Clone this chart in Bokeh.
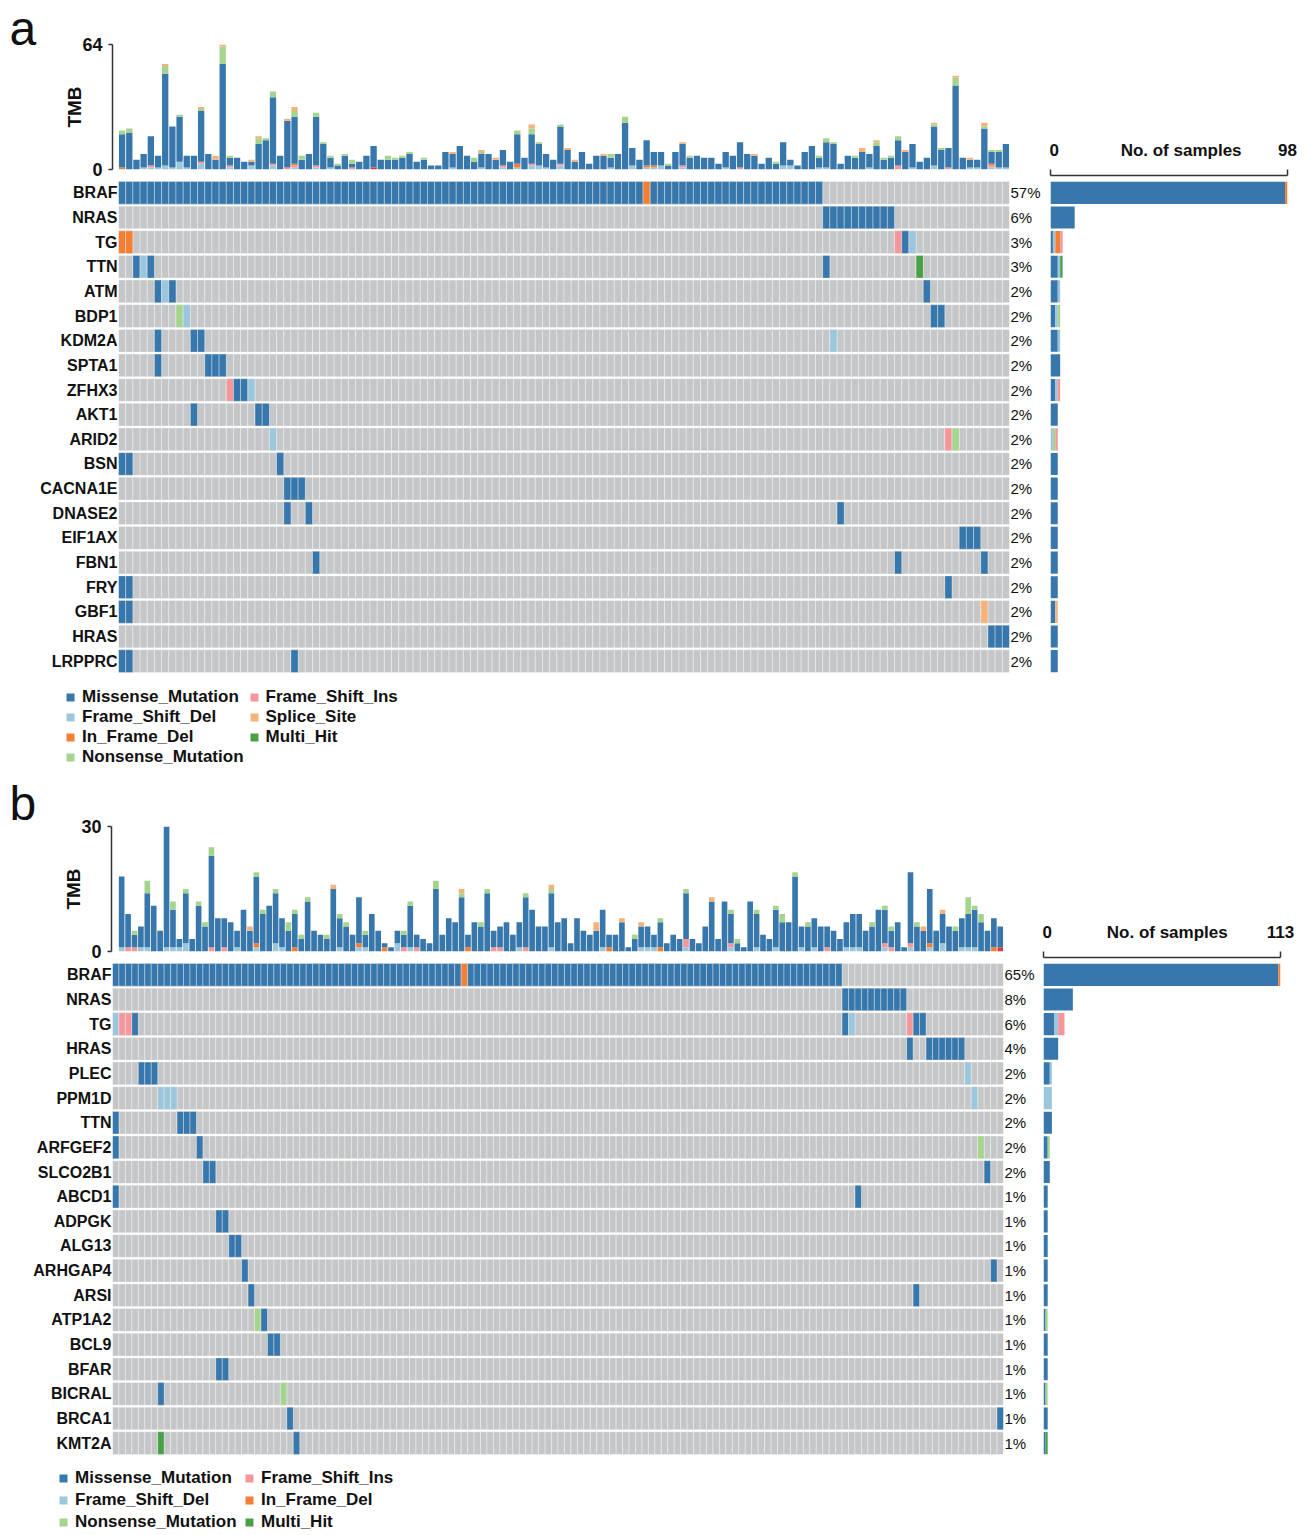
from bokeh.plotting import figure
from bokeh.models import (Range1d, LinearAxis, FixedTicker, Legend,
                          LegendItem, Spacer, ColumnDataSource)
from bokeh.core.properties import value
from bokeh.layouts import column, row
from bokeh.embed import file_html
from bokeh.resources import INLINE

FONT = "Liberation Sans"
MIS, FSD, IFD, NON = "Missense_Mutation", "Frame_Shift_Del", "In_Frame_Del", "Nonsense_Mutation"
FSI, SPL, MUL, IFI = "Frame_Shift_Ins", "Splice_Site", "Multi_Hit", "In_Frame_Ins"

COLORS = {
    MIS: "#3777AB", FSD: "#9CC6DC", IFD: "#F47E33", NON: "#A5D48F",
    FSI: "#F4979B", SPL: "#F6B27B", MUL: "#48A047", IFI: "#E2393B",
}
GREY = "#C5C6C8"

# ---------------- panel a data ----------------
genes_a = ["BRAF", "NRAS", "TG", "TTN", "ATM", "BDP1", "KDM2A", "SPTA1", "ZFHX3", "AKT1",
           "ARID2", "BSN", "CACNA1E", "DNASE2", "EIF1AX", "FBN1", "FRY", "GBF1", "HRAS", "LRPPRC"]
pct_a = ["57%", "6%", "3%", "3%"] + ["2%"] * 16
n_samples_a = 124
max_count_a = 98
# (gene, first sample, last sample, class)
cells_a = [
    ("BRAF", 0, 72, MIS), ("BRAF", 73, 73, IFD), ("BRAF", 74, 97, MIS),
    ("NRAS", 98, 107, MIS),
    ("TG", 0, 1, IFD), ("TG", 108, 108, FSI), ("TG", 109, 109, MIS), ("TG", 110, 110, FSD),
    ("TTN", 2, 2, MIS), ("TTN", 3, 3, FSD), ("TTN", 4, 4, MIS), ("TTN", 98, 98, MIS), ("TTN", 111, 111, MUL),
    ("ATM", 5, 5, MIS), ("ATM", 6, 6, FSD), ("ATM", 7, 7, MIS), ("ATM", 112, 112, MIS),
    ("BDP1", 8, 8, NON), ("BDP1", 9, 9, FSD), ("BDP1", 113, 114, MIS),
    ("KDM2A", 5, 5, MIS), ("KDM2A", 10, 11, MIS), ("KDM2A", 99, 99, FSD),
    ("SPTA1", 5, 5, MIS), ("SPTA1", 12, 14, MIS),
    ("ZFHX3", 15, 15, FSI), ("ZFHX3", 16, 17, MIS), ("ZFHX3", 18, 18, FSD),
    ("AKT1", 10, 10, MIS), ("AKT1", 19, 20, MIS),
    ("ARID2", 21, 21, FSD), ("ARID2", 115, 115, FSI), ("ARID2", 116, 116, NON),
    ("BSN", 0, 1, MIS), ("BSN", 22, 22, MIS),
    ("CACNA1E", 23, 25, MIS),
    ("DNASE2", 23, 23, MIS), ("DNASE2", 26, 26, MIS), ("DNASE2", 100, 100, MIS),
    ("EIF1AX", 117, 119, MIS),
    ("FBN1", 27, 27, MIS), ("FBN1", 108, 108, MIS), ("FBN1", 120, 120, MIS),
    ("FRY", 0, 1, MIS), ("FRY", 115, 115, MIS),
    ("GBF1", 0, 1, MIS), ("GBF1", 120, 120, SPL),
    ("HRAS", 121, 123, MIS),
    ("LRPPRC", 0, 1, MIS), ("LRPPRC", 24, 24, MIS),
]
tmb_a_total = [20, 21, 5, 8, 17, 7, 54, 22, 28, 7,
               7, 32, 8, 7, 64, 7, 6, 4, 5, 17,
               16, 40, 7, 26, 32, 7, 8, 29, 14, 7,
               3, 8, 5, 4, 7, 12, 5, 7, 6, 7,
               9, 4, 6, 2, 2, 9, 9, 12, 7, 6,
               10, 8, 6, 10, 4, 20, 6, 23, 14, 8,
               5, 23, 11, 5, 9, 3, 7, 8, 8, 8,
               27, 11, 5, 15, 9, 9, 3, 9, 14, 7,
               7, 6, 6, 3, 9, 7, 14, 8, 8, 3,
               6, 4, 14, 5, 2, 9, 12, 7, 16, 14,
               3, 7, 7, 11, 8, 15, 6, 7, 17, 10,
               13, 4, 6, 24, 11, 11, 48, 6, 6, 5,
               24, 10, 10, 13]
tmb_a_nonsense = {0: 2, 1: 2, 6: 4, 8: 1, 11: 1, 14: 9, 15: 1, 19: 3, 20: 1, 21: 3, 24: 3, 25: 2,
                  27: 2, 28: 1, 29: 1, 30: 1, 31: 1, 32: 2, 37: 2, 38: 1, 39: 1, 40: 1, 42: 1,
                  49: 2, 50: 1, 55: 2, 57: 3, 58: 1, 61: 1, 68: 2, 70: 3, 76: 1, 79: 1, 91: 1,
                  97: 1, 98: 2, 99: 1, 102: 1, 105: 2, 106: 1, 107: 1, 108: 2, 113: 1, 114: 1,
                  116: 4, 120: 1, 121: 1, 122: 1}
tmb_a_splice = {6: 1, 11: 1, 13: 2, 14: 1, 18: 1, 19: 1, 23: 1, 24: 2, 46: 1, 50: 1, 52: 1, 57: 2,
                62: 1, 63: 1, 67: 1, 78: 1, 88: 1, 103: 2, 105: 1, 109: 1, 113: 1, 116: 1, 118: 1,
                120: 2}
tmb_a_fs_ins = {4: 1, 11: 1, 15: 1, 21: 1, 23: 1, 24: 1, 27: 1, 32: 1, 53: 1, 57: 1, 61: 1, 78: 1,
                86: 1, 108: 2, 115: 1, 121: 1}
tmb_a_fs_del = {3: 1, 4: 1, 5: 1, 6: 2, 7: 1, 8: 4, 9: 1, 11: 3, 15: 1, 18: 2, 21: 2, 24: 1, 27: 1,
                29: 1, 46: 1, 50: 1, 53: 1, 55: 1, 57: 2, 58: 2, 59: 1, 61: 2, 68: 1, 71: 2, 73: 1,
                74: 1, 75: 2, 78: 1, 84: 1, 92: 2, 93: 2, 97: 1, 98: 1, 104: 1, 110: 1, 113: 2,
                118: 1, 119: 1, 121: 1, 122: 1, 123: 1}
tmb_a_in_frame_del = {0: 1, 24: 1, 55: 2, 73: 1, 74: 1, 121: 1}
tmb_a_in_frame_ins = {35: 1}
side_a_override = {}

# ---------------- panel b data ----------------
genes_b = ["BRAF", "NRAS", "TG", "HRAS", "PLEC", "PPM1D", "TTN", "ARFGEF2", "SLCO2B1", "ABCD1",
           "ADPGK", "ALG13", "ARHGAP4", "ARSI", "ATP1A2", "BCL9", "BFAR", "BICRAL", "BRCA1", "KMT2A"]
pct_b = ["65%", "8%", "6%", "4%", "2%", "2%", "2%", "2%", "2%"] + ["1%"] * 11
n_samples_b = 138
max_count_b = 113
cells_b = [
    ("BRAF", 0, 53, MIS), ("BRAF", 54, 54, IFD), ("BRAF", 55, 112, MIS),
    ("NRAS", 113, 122, MIS),
    ("TG", 0, 0, FSD), ("TG", 1, 2, FSI), ("TG", 3, 3, MIS), ("TG", 113, 113, MIS),
    ("TG", 114, 114, FSD), ("TG", 123, 123, FSI), ("TG", 124, 125, MIS),
    ("HRAS", 123, 123, MIS), ("HRAS", 126, 131, MIS),
    ("PLEC", 4, 6, MIS), ("PLEC", 132, 132, FSD),
    ("PPM1D", 7, 9, FSD), ("PPM1D", 133, 133, FSD),
    ("TTN", 0, 0, MIS), ("TTN", 10, 12, MIS),
    ("ARFGEF2", 0, 0, MIS), ("ARFGEF2", 13, 13, MIS), ("ARFGEF2", 134, 134, NON),
    ("SLCO2B1", 14, 15, MIS), ("SLCO2B1", 135, 135, MIS),
    ("ABCD1", 0, 0, MIS), ("ABCD1", 115, 115, MIS),
    ("ADPGK", 16, 17, MIS),
    ("ALG13", 18, 19, MIS),
    ("ARHGAP4", 20, 20, MIS), ("ARHGAP4", 136, 136, MIS),
    ("ARSI", 21, 21, MIS), ("ARSI", 124, 124, MIS),
    ("ATP1A2", 22, 22, NON), ("ATP1A2", 23, 23, MIS),
    ("BCL9", 24, 25, MIS),
    ("BFAR", 16, 17, MIS),
    ("BICRAL", 7, 7, MIS), ("BICRAL", 26, 26, NON),
    ("BRCA1", 27, 27, MIS), ("BRCA1", 137, 137, MIS),
    ("KMT2A", 7, 7, MUL), ("KMT2A", 28, 28, MIS),
]
tmb_b_total = [18, 9, 5, 6, 17, 11, 5, 30, 12, 3,
               15, 3, 12, 7, 25, 8, 8, 7, 5, 10,
               6, 19, 10, 11, 15, 8, 7, 10, 4, 13,
               5, 4, 4, 16, 9, 7, 4, 13, 5, 9,
               5, 2, 1, 5, 5, 12, 4, 3, 2, 17,
               4, 8, 7, 15, 4, 7, 7, 15, 5, 6,
               7, 4, 7, 14, 10, 6, 6, 16, 7, 8,
               2, 8, 5, 4, 7, 10, 4, 4, 8, 1,
               4, 7, 6, 4, 8, 2, 4, 3, 15, 3,
               2, 6, 13, 3, 12, 10, 3, 1, 12, 10,
               4, 3, 11, 9, 7, 19, 6, 7, 8, 6,
               6, 5, 3, 7, 9, 9, 5, 7, 10, 11,
               6, 7, 1, 19, 7, 6, 15, 5, 10, 6,
               6, 8, 13, 11, 9, 5, 8, 6]
tmb_b_nonsense = {2: 1, 4: 3, 8: 2, 10: 1, 12: 1, 13: 1, 14: 2, 21: 1, 22: 1, 24: 1, 26: 2, 27: 1,
                  28: 1, 29: 1, 32: 1, 34: 1, 35: 1, 38: 1, 44: 1, 45: 1, 49: 2, 53: 1, 56: 1,
                  57: 1, 63: 1, 67: 1, 80: 1, 84: 1, 88: 1, 95: 1, 96: 1, 99: 1, 102: 1, 103: 2,
                  105: 1, 107: 1, 117: 1, 119: 1, 120: 1, 124: 1, 130: 1, 132: 4, 133: 1, 134: 2}
tmb_b_splice = {20: 1, 33: 1, 53: 1, 67: 1, 74: 2, 78: 1, 81: 1, 92: 1, 125: 1, 128: 1}
tmb_b_fs_ins = {1: 1, 2: 1, 14: 1, 16: 1, 44: 1, 46: 1, 58: 1, 59: 1, 63: 1, 88: 2, 95: 1, 110: 1,
                119: 1, 120: 1, 123: 1}
tmb_b_fs_del = {0: 1, 3: 1, 4: 1, 7: 1, 8: 1, 9: 1, 10: 2, 18: 1, 21: 1, 24: 2, 25: 1, 34: 1, 37: 1,
                38: 1, 43: 2, 45: 1, 62: 1, 67: 1, 75: 1, 81: 1, 82: 1, 83: 1, 88: 1, 95: 1, 99: 1,
                102: 1, 106: 1, 108: 1, 113: 1, 114: 1, 115: 1, 119: 1, 123: 1, 126: 1, 128: 2,
                131: 1, 132: 1, 133: 1}
tmb_b_in_frame_del = {21: 1, 27: 1, 37: 1, 41: 1, 54: 1, 76: 1, 84: 1, 126: 1, 136: 1}
tmb_b_in_frame_ins = {137: 1}
side_b_override = {"NRAS": {MIS: 14}, "TG": {MIS: 5, FSD: 2, FSI: 3}}

legend_a = [MIS, FSD, IFD, NON, FSI, SPL, MUL]
legend_b = [MIS, FSD, NON, FSI, IFD, MUL]

TMB_ORDER = [FSD, FSI, IFD, IFI, MIS, NON, SPL]
SIDE_ORDER = [MIS, FSD, IFD, NON, FSI, SPL, MUL]


def base_fig(width, height, left, right, top, bottom, x_range, y_range):
    p = figure(width=width, height=height, x_range=x_range, y_range=y_range,
               toolbar_location=None, tools="", output_backend="svg",
               x_axis_location=None, y_axis_location=None,
               min_border_left=left, min_border_right=right,
               min_border_top=top, min_border_bottom=bottom)
    p.outline_line_color = None
    p.grid.visible = False
    p.background_fill_color = "white"
    p.border_fill_color = "white"
    try:
        p.frame_align = False
    except Exception:
        pass
    return p


def make_letter(letter, width, height, bx, by):
    p = base_fig(width, height, 0, 0, 0, 0, Range1d(0, width), Range1d(height, 0))
    p.text(x=[bx], y=[by], text=[letter], text_font=value(FONT), text_font_size="48px",
           text_baseline="middle", text_align="left", text_color="#111111")
    return p


def make_tmb(total, parts, ymax, width, height, left, right, top, bottom, grid_w):
    n = len(total)
    colw = grid_w / n
    frame_w = width - left - right
    pad = (frame_w - grid_w) / colw
    p = base_fig(width, height, left, right, top, bottom,
                 Range1d(-0.5 - pad, n - 0.5), Range1d(0, ymax))
    data = {"sample": list(range(n))}
    others = [0] * n
    for cls, d in parts.items():
        col = [d.get(i, 0) for i in range(n)]
        data[cls] = col
        others = [a + b for a, b in zip(others, col)]
    data[MIS] = [t - o for t, o in zip(total, others)]
    src = ColumnDataSource(data)
    p.vbar_stack(TMB_ORDER, x="sample", width=0.88, source=src,
                 color=[COLORS[c] for c in TMB_ORDER], line_color=None)
    ax = LinearAxis(ticker=FixedTicker(ticks=[0, ymax]), axis_label="TMB")
    ax.axis_line_color = "#333333"
    ax.axis_line_width = 1.5
    ax.major_tick_line_color = "#333333"
    ax.major_tick_line_width = 1.5
    ax.major_tick_out = 4
    ax.major_tick_in = 0
    ax.minor_tick_line_color = None
    ax.major_label_standoff = 6
    ax.major_label_text_font = FONT
    ax.major_label_text_font_size = "18px"
    ax.major_label_text_font_style = "bold"
    ax.major_label_text_color = "#111111"
    ax.axis_label_text_font = FONT
    ax.axis_label_text_font_size = "19px"
    ax.axis_label_text_font_style = "bold"
    ax.axis_label_text_color = "#111111"
    ax.axis_label_standoff = -6
    p.add_layout(ax, "left")
    return p


def expand(cells, genes):
    xs, ys, cs = [], [], []
    for g, s0, s1, c in cells:
        for s in range(s0, s1 + 1):
            xs.append(s)
            ys.append(genes.index(g))
            cs.append(c)
    return xs, ys, cs


def make_grid(genes, pct, n, cells, width, height, left, right, top, bottom):
    ng = len(genes)
    p = base_fig(width, height, left, right, top, bottom,
                 Range1d(-0.5, n - 0.5), Range1d(ng - 0.5, -0.5))
    bx = [s for g in range(ng) for s in range(n)]
    by = [g for g in range(ng) for s in range(n)]
    p.rect(x=bx, y=by, width=1, height=0.92, fill_color=GREY,
           line_color="white", line_alpha=0.35, line_width=1)
    xs, ys, cs = expand(cells, genes)
    src = ColumnDataSource(dict(x=xs, y=ys, color=[COLORS[c] for c in cs]))
    p.rect(x="x", y="y", width=1, height=0.92, fill_color="color", source=src,
           line_color="white", line_alpha=0.35, line_width=1)
    for side, labels, size, style in (("left", genes, "16px", "bold"),
                                      ("right", pct, "15px", "normal")):
        ax = LinearAxis(ticker=FixedTicker(ticks=list(range(ng))))
        ax.major_label_overrides = {i: lab for i, lab in enumerate(labels)}
        ax.axis_line_color = None
        ax.major_tick_line_color = None
        ax.minor_tick_line_color = None
        ax.major_tick_out = 0
        ax.major_tick_in = 0
        ax.major_label_standoff = 1
        ax.major_label_text_font = FONT
        ax.major_label_text_font_size = size
        ax.major_label_text_font_style = style
        ax.major_label_text_color = "#111111"
        p.add_layout(ax, side)
    return p


def make_side(genes, cells, override, maxv, mid_frac, width, height, left, right, top, bottom, grid_h):
    ng = len(genes)
    frame_h = height - top - bottom
    row_h = grid_h / ng
    pad = (frame_h - grid_h) / row_h
    p = base_fig(width, height, left, right, top, bottom,
                 Range1d(0, maxv), Range1d(ng - 0.5, -0.5 - pad))
    data = {"y": list(range(ng))}
    for c in SIDE_ORDER:
        data[c] = [0] * ng
    xs, ys, cs = expand(cells, genes)
    for y, c in zip(ys, cs):
        data[c][y] += 1
    for g, counts in override.items():
        gi = genes.index(g)
        for c in SIDE_ORDER:
            data[c][gi] = counts.get(c, 0)
    src = ColumnDataSource(data)
    p.hbar_stack(SIDE_ORDER, y="y", height=0.9, source=src,
                 color=[COLORS[c] for c in SIDE_ORDER], line_color=None)
    mid = round(maxv * mid_frac)
    ax = LinearAxis(ticker=FixedTicker(ticks=[0, mid, maxv], minor_ticks=[0, maxv]))
    ax.major_label_overrides = {mid: "No. of samples"}
    ax.axis_line_color = "#333333"
    ax.axis_line_width = 1.5
    ax.major_tick_line_color = None
    ax.major_tick_out = 0
    ax.major_tick_in = 0
    ax.minor_tick_line_color = "#333333"
    ax.minor_tick_line_width = 1.5
    ax.minor_tick_out = 6
    ax.minor_tick_in = 0
    ax.major_label_standoff = 10
    ax.major_label_text_font = FONT
    ax.major_label_text_font_size = "17px"
    ax.major_label_text_font_style = "bold"
    ax.major_label_text_color = "#111111"
    p.add_layout(ax, "above")
    return p


def make_legend(classes, nrows, width, height, left, top, label_h, label_w):
    p = base_fig(width, height, left, 0, top, 0, Range1d(0, 1), Range1d(0, 1))
    items = []
    for c in classes:
        r = p.scatter(x=[float("nan")], y=[float("nan")], marker="square", size=8,
                      fill_color=COLORS[c], line_color=None)
        items.append(LegendItem(label=c, renderers=[r]))
    leg = Legend(items=items, location="top_left", orientation="vertical", nrows=nrows,
                 margin=0, padding=0, spacing=0, glyph_width=20, glyph_height=label_h,
                 label_standoff=2, label_height=label_h, label_width=label_w,
                 border_line_color=None, background_fill_alpha=0,
                 label_text_font=FONT, label_text_font_size="17px",
                 label_text_font_style="bold", label_text_color="#111111")
    p.add_layout(leg)
    return p


parts_a = {NON: tmb_a_nonsense, SPL: tmb_a_splice, FSI: tmb_a_fs_ins, FSD: tmb_a_fs_del,
           IFD: tmb_a_in_frame_del, IFI: tmb_a_in_frame_ins}
parts_b = {NON: tmb_b_nonsense, SPL: tmb_b_splice, FSI: tmb_b_fs_ins, FSD: tmb_b_fs_del,
           IFD: tmb_b_in_frame_del, IFI: tmb_b_in_frame_ins}

# panel a
let_a = make_letter("a", 60, 180, 9, 28)
tmb_a = make_tmb(tmb_a_total, parts_a, 64, 989, 180, 52, 40, 44, 11, 891)
grid_a = make_grid(genes_a, pct_a, n_samples_a, cells_a, 1049, 500, 118, 40, 0, 7)
leg_a = make_legend(legend_a, 4, 1049, 95, 60, 7, 20, 159)
side_a = make_side(genes_a, cells_a, side_a_override, max_count_a, 0.553,
                   262, 545, 1, 24, 40, 7, 493)
panel_a = row(column(row(let_a, tmb_a), grid_a, leg_a),
              column(Spacer(width=262, height=135), side_a))

# panel b
let_b = make_letter("b", 60, 187, 9, 28)
tmb_b = make_tmb(tmb_b_total, parts_b, 30, 982, 187, 45, 39, 51, 11, 891)
grid_b = make_grid(genes_b, pct_b, n_samples_b, cells_b, 1042, 498, 112, 39, 0, 5)
leg_b = make_legend(legend_b, 3, 1042, 75, 53, 7, 22, 164)
side_b = make_side(genes_b, cells_b, side_b_override, max_count_b, 0.52,
                   269, 543, 1, 31, 40, 5, 493)
panel_b = row(column(row(let_b, tmb_b), grid_b, leg_b),
              column(Spacer(width=269, height=142), side_b))

layout = column(panel_a, panel_b)
open("out.html", "w").write(file_html(layout, INLINE))
